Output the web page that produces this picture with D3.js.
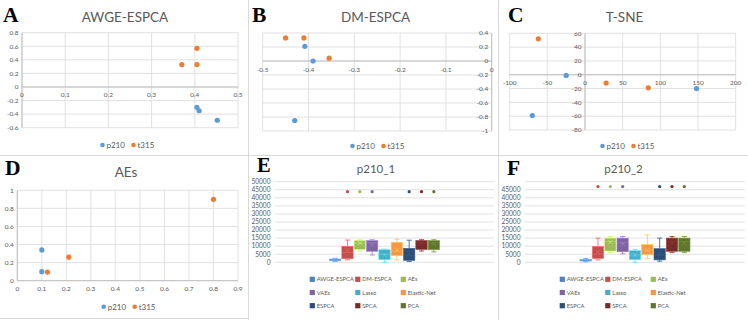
<!DOCTYPE html>
<html><head><meta charset="utf-8">
<script src="https://cdn.jsdelivr.net/npm/d3@7"></script>
<style>body{margin:0;background:#fff}svg{display:block;font-family:Lato,"Liberation Sans",sans-serif}</style>
</head><body><svg id="c" width="748" height="320"></svg>
<script>
// ---------- DATA ----------
const scatterSeries = ["p210", "t315"];
const scatterColors = ["#5b9bd5", "#ed7d31"];

// Panel A: AWGE-ESPCA
const A_p210_x = [0.405, 0.41, 0.452];
const A_p210_y = [-0.30, -0.35, -0.49];
const A_t315_x = [0.37, 0.405, 0.405];
const A_t315_y = [0.33, 0.57, 0.33];
const A_xTicks = [0, 0.1, 0.2, 0.3, 0.4, 0.5];
const A_yTicks = [-0.6, -0.4, -0.2, 0, 0.2, 0.4, 0.6, 0.8];

// Panel B: DM-ESPCA
const B_p210_x = [-0.408, -0.39, -0.43];
const B_p210_y = [0.21, 0.0, -0.85];
const B_t315_x = [-0.45, -0.41, -0.355];
const B_t315_y = [0.33, 0.33, 0.04];
const B_xTicks = [-0.5, -0.4, -0.3, -0.2, -0.1, 0];
const B_yTicks = [-1, -0.8, -0.6, -0.4, -0.2, 0, 0.2, 0.4];

// Panel C: T-SNE
const C_p210_x = [-25, -70, 148];
const C_p210_y = [-1, -59, -20];
const C_t315_x = [-62, 28, 84];
const C_t315_y = [52, -12, -19];
const C_xTicks = [-100, -50, 0, 50, 100, 150, 200];
const C_yTicks = [-80, -60, -40, -20, 0, 20, 40, 60];

// Panel D: AEs
const D_p210_x = [0.1, 0.1];
const D_p210_y = [0.34, 0.10];
const D_t315_x = [0.123, 0.21, 0.8];
const D_t315_y = [0.095, 0.26, 0.9];
const D_xTicks = [0, 0.1, 0.2, 0.3, 0.4, 0.5, 0.6, 0.7, 0.8, 0.9];
const D_yTicks = [0, 0.2, 0.4, 0.6, 0.8, 1];

// Box plots
const boxMethods = ["AWGE-ESPCA", "DM-ESPCA", "AEs", "VAEs", "Lasso", "Elastic-Net", "ESPCA", "SPCA", "PCA"];
const boxColors = ["#4f81bd", "#c0504d", "#9bbb59", "#8064a2", "#4bacc6", "#f79646", "#2c4d75", "#772c2a", "#5f7530"];

// Panel E: p210_1
const E_min    = [500, 1500, 7000, 4500, 0, 1500, 500, 7000, 6500];
const E_q1     = [1000, 2200, 8000, 6800, 1600, 4100, 1200, 8000, 7800];
const E_median = [1400, 6000, 12000, 12000, 5000, 7000, 4000, 12000, 12000];
const E_q3     = [2000, 9900, 13500, 13500, 7800, 12400, 8700, 13500, 13500];
const E_max    = [2500, 13800, 14000, 14000, 8200, 14300, 13700, 14000, 14000];
const E_mean   = [1500, 7500, 12000, 11000, 4500, 7500, 5500, 11500, 11500];
const E_outlier= [null, 43800, 43800, 43800, null, null, 43800, 43800, 43800];
const E_yTicks = [0, 5000, 10000, 15000, 20000, 25000, 30000, 35000, 40000, 45000, 50000];

// Panel F: p210_2
const F_min    = [300, 1500, 6000, 5200, 0, 2200, 700, 6000, 6000];
const F_q1     = [800, 2400, 7000, 6500, 1600, 4800, 1500, 6800, 6800];
const F_median = [1200, 5000, 13000, 12000, 4500, 7500, 4500, 13000, 13000];
const F_q3     = [1700, 9800, 15000, 15000, 7200, 11000, 8500, 15000, 15000];
const F_max    = [2300, 15000, 16000, 16000, 8000, 17000, 15000, 16000, 16000];
const F_mean   = [1300, 6500, 12500, 11500, 4500, 7500, 5000, 12000, 12000];
const F_outlier= [null, 47000, 47000, 47000, null, null, 47000, 47000, 47000];
const F_yTicks = [0, 5000, 10000, 15000, 20000, 25000, 30000, 35000, 40000, 45000];

// ---------- DRAW ----------
const svg = d3.select("#c");
const GRID = "#d9d9d9", AXIS = "#bfbfbf", TXT = "#595959";
const fmt = v => String(+v.toFixed(2));

// panel borders
const borders = svg.append("g").attr("stroke", "#d9d9d9").attr("fill", "none");
borders.append("line").attr("x1", 248.5).attr("x2", 248.5).attr("y1", 0).attr("y2", 320);
borders.append("line").attr("x1", 498.5).attr("x2", 498.5).attr("y1", 0).attr("y2", 320);
borders.append("line").attr("x1", 0).attr("x2", 748).attr("y1", 155.5).attr("y2", 155.5);
borders.append("line").attr("x1", 0).attr("x2", 248).attr("y1", 318.5).attr("y2", 318.5);

function panelLetter(x, y, t, size) {
  svg.append("text").attr("x", x).attr("y", y).text(t)
    .attr("font-family", "'Liberation Serif','Times New Roman',serif").attr("font-weight", "bold")
    .attr("font-size", size || 21.5).attr("fill", "#000");
}

function scatterPanel(cfg) {
  const g = svg.append("g");
  const x = d3.scaleLinear().domain(d3.extent(cfg.xTicks)).range(cfg.xRange);
  const y = d3.scaleLinear().domain(d3.extent(cfg.yTicks)).range(cfg.yRange);
  g.selectAll(".vg").data(cfg.xTicks).join("line")
    .attr("x1", d => x(d)).attr("x2", d => x(d)).attr("y1", cfg.yRange[0]).attr("y2", cfg.yRange[1])
    .attr("stroke", GRID).attr("stroke-width", 0.8);
  g.selectAll(".hg").data(cfg.yTicks).join("line").attr("class", "hg")
    .attr("x1", cfg.xRange[0]).attr("x2", cfg.xRange[1]).attr("y1", d => y(d)).attr("y2", d => y(d))
    .attr("stroke", GRID).attr("stroke-width", 0.8);
  g.append("line").attr("x1", cfg.xRange[0]).attr("x2", cfg.xRange[1]).attr("y1", y(0)).attr("y2", y(0)).attr("stroke", AXIS);
  g.append("line").attr("x1", x(0)).attr("x2", x(0)).attr("y1", cfg.yRange[0]).attr("y2", cfg.yRange[1]).attr("stroke", AXIS);
  g.selectAll(".xl").data(cfg.xTicks).join("text")
    .attr("x", d => x(d)).attr("y", y(0) + 10.5).attr("text-anchor", "middle")
    .attr("font-size", 6.5).attr("fill", TXT).text(fmt);
  g.selectAll(".yl").data(cfg.yTicks).join("text")
    .attr("x", x(0) - 3.5).attr("y", d => y(d)).attr("dy", "0.35em").attr("text-anchor", "end")
    .attr("font-size", 6.5).attr("fill", TXT).text(fmt);
  cfg.series.forEach((s, i) => {
    g.selectAll(".p" + i).data(s.x.map((v, k) => [v, s.y[k]])).join("circle")
      .attr("cx", d => x(d[0])).attr("cy", d => y(d[1])).attr("r", 2.6).attr("fill", scatterColors[i]);
  });
  g.append("text").attr("x", cfg.titleX).attr("y", cfg.titleY).attr("text-anchor", "middle")
    .attr("font-size", 13.5).attr("fill", TXT).text(cfg.title);
  const lg = g.append("g").attr("transform", `translate(${cfg.legendX},${cfg.legendY})`);
  scatterSeries.forEach((name, i) => {
    const gx = i * 31;
    lg.append("circle").attr("cx", gx).attr("cy", 0).attr("r", 2.3).attr("fill", scatterColors[i]);
    lg.append("text").attr("x", gx + 4).attr("y", 0).attr("dy", "0.35em")
      .attr("font-size", 8).attr("fill", TXT).text(name);
  });
}

function boxPanel(cfg) {
  const g = svg.append("g");
  const y = d3.scaleLinear().domain([0, 50000]).range(cfg.yRange);
  const center = (cfg.xRange[0] + cfg.xRange[1]) / 2;
  const x = d3.scaleBand().domain(boxMethods).range([center - 56, center + 56]).padding(0.08);
  g.selectAll(".hg").data(cfg.gridTicks).join("line")
    .attr("x1", cfg.xRange[0]).attr("x2", cfg.xRange[1]).attr("y1", d => y(d)).attr("y2", d => y(d))
    .attr("stroke", GRID).attr("stroke-width", 0.8);
  g.selectAll(".yl").data(cfg.yTicks).join("text")
    .attr("x", cfg.xRange[0] - 4.5).attr("y", d => y(d)).attr("dy", "0.35em").attr("text-anchor", "end")
    .attr("font-size", 6.6).attr("fill", TXT).text(d => d);
  const bw = x.bandwidth();
  boxMethods.forEach((m, i) => {
    const c = d3.color(boxColors[i]);
    const light = c.brighter(0.8).formatHex();
    const cx = x(m) + bw / 2;
    const bg = g.append("g");
    bg.append("line").attr("x1", cx).attr("x2", cx).attr("y1", y(cfg.max[i])).attr("y2", y(cfg.q3[i])).attr("stroke", light).attr("stroke-width", 0.9);
    bg.append("line").attr("x1", cx).attr("x2", cx).attr("y1", y(cfg.q1[i])).attr("y2", y(cfg.min[i])).attr("stroke", light).attr("stroke-width", 0.9);
    [cfg.max[i], cfg.min[i]].forEach(v => {
      bg.append("line").attr("x1", cx - bw * 0.22).attr("x2", cx + bw * 0.22).attr("y1", y(v)).attr("y2", y(v)).attr("stroke", light).attr("stroke-width", 0.9);
    });
    bg.append("rect").attr("x", x(m)).attr("width", bw).attr("y", y(cfg.q3[i]))
      .attr("height", Math.max(1, y(cfg.q1[i]) - y(cfg.q3[i])))
      .attr("fill", boxColors[i]).attr("stroke", light).attr("stroke-width", 0.6);
    bg.append("line").attr("x1", x(m)).attr("x2", x(m) + bw).attr("y1", y(cfg.median[i])).attr("y2", y(cfg.median[i]))
      .attr("stroke", light).attr("stroke-width", 0.6).attr("opacity", 0.8);
    const my = y(cfg.mean[i]), s = 2.2;
    bg.append("path").attr("d", `M${cx - s},${my - s}L${cx + s},${my + s}M${cx - s},${my + s}L${cx + s},${my - s}`)
      .attr("stroke", light).attr("stroke-width", 0.7).attr("opacity", 0.8);
    if (cfg.outlier[i] != null) {
      bg.append("circle").attr("cx", cx).attr("cy", y(cfg.outlier[i])).attr("r", 1.6).attr("fill", boxColors[i]);
    }
  });
  g.append("text").attr("x", cfg.titleX).attr("y", cfg.titleY).attr("text-anchor", "middle")
    .attr("font-size", 11.5).attr("fill", TXT).text(cfg.title);
  boxMethods.forEach((m, i) => {
    const col = i % 3, row = Math.floor(i / 3);
    const lx = cfg.legendX + col * 45.5, ly = cfg.legendY + row * 13.2;
    g.append("rect").attr("x", lx).attr("y", ly - 2.6).attr("width", 5.2).attr("height", 5.2).attr("fill", boxColors[i]);
    g.append("text").attr("x", lx + 7).attr("y", ly).attr("dy", "0.35em")
      .attr("font-size", 5.8).attr("fill", TXT).text(m);
  });
}

scatterPanel({
  title: "AWGE-ESPCA", titleX: 125, titleY: 21.5,
  xTicks: A_xTicks, yTicks: A_yTicks, xRange: [22, 238], yRange: [127.7, 32.7],
  series: [{x: A_p210_x, y: A_p210_y}, {x: A_t315_x, y: A_t315_y}],
  legendX: 102.5, legendY: 145
});
scatterPanel({
  title: "DM-ESPCA", titleX: 375.5, titleY: 21.5,
  xTicks: B_xTicks, yTicks: B_yTicks, xRange: [262.7, 491.7], yRange: [131, 33],
  series: [{x: B_p210_x, y: B_p210_y}, {x: B_t315_x, y: B_t315_y}],
  legendX: 352.5, legendY: 146
});
scatterPanel({
  title: "T-SNE", titleX: 624.5, titleY: 21.5,
  xTicks: C_xTicks, yTicks: C_yTicks, xRange: [509.7, 735.7], yRange: [130, 33.3],
  series: [{x: C_p210_x, y: C_p210_y}, {x: C_t315_x, y: C_t315_y}],
  legendX: 602.5, legendY: 146
});
scatterPanel({
  title: "AEs", titleX: 126, titleY: 176.5,
  xTicks: D_xTicks, yTicks: D_yTicks, xRange: [17.3, 238], yRange: [280.7, 190.3],
  series: [{x: D_p210_x, y: D_p210_y}, {x: D_t315_x, y: D_t315_y}],
  legendX: 103.7, legendY: 306.7
});
boxPanel({
  title: "p210_1", titleX: 376, titleY: 173,
  min: E_min, q1: E_q1, median: E_median, q3: E_q3, max: E_max, mean: E_mean, outlier: E_outlier,
  yTicks: E_yTicks, gridTicks: E_yTicks, xRange: [275, 494], yRange: [262.3, 181.7],
  legendX: 309.7, legendY: 279.3
});
boxPanel({
  title: "p210_2", titleX: 623.5, titleY: 173,
  min: F_min, q1: F_q1, median: F_median, q3: F_q3, max: F_max, mean: F_mean, outlier: F_outlier,
  yTicks: F_yTicks, gridTicks: E_yTicks, xRange: [525, 745], yRange: [262.3, 181.7],
  legendX: 559.7, legendY: 279.3
});

panelLetter(3, 22, "A");
panelLetter(252, 22, "B");
panelLetter(508, 22, "C");
panelLetter(5, 175, "D");
panelLetter(257, 172, "E", 20.5);
panelLetter(507, 175, "F");
</script></body></html>
